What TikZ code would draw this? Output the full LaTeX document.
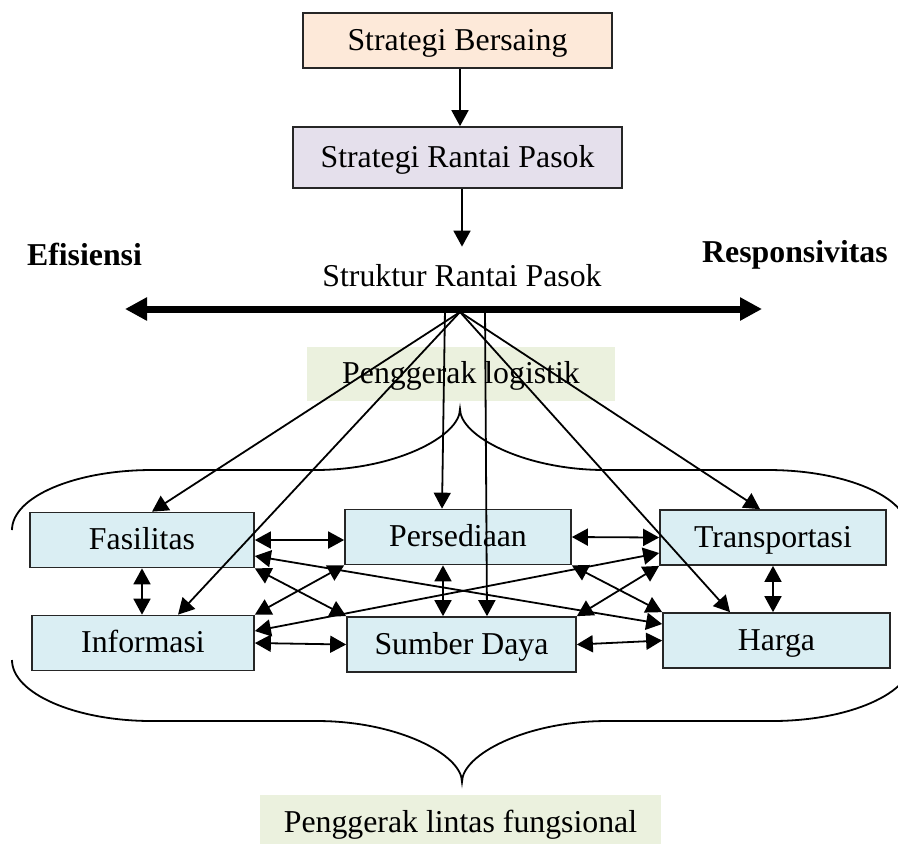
\documentclass[tikz,border=0pt]{standalone}
\usepackage{fontspec}
\setmainfont{Liberation Serif}
\usetikzlibrary{arrows.meta}
\definecolor{sbfill}{HTML}{FDE9D9}
\definecolor{srpfill}{HTML}{E5E0EC}
\definecolor{drvfill}{HTML}{DAEEF3}
\definecolor{bandfill}{HTML}{EBF1DE}
\definecolor{edgecol}{HTML}{262626}

\begin{document}
\begin{tikzpicture}[x=0.5pt,y=-0.5pt,
  every node/.style={font=\fontsize{15.9pt}{19pt}\selectfont, inner sep=0pt,
    text height=12pt, text depth=2.5pt},
  box/.style={draw=edgecol, line width=0.85pt, minimum height=27.5pt},
  driver/.style={box, fill=drvfill, minimum height=27.5pt},
  band/.style={fill=bandfill, minimum height=27pt},
  arr/.style={line width=0.9pt, -{Triangle[length=8pt,width=8.5pt]}},
  biarr/.style={line width=0.9pt,
    {Triangle[length=8pt,width=8.5pt]}-{Triangle[length=8pt,width=8.5pt]}},
  spectrum/.style={line width=3.5pt,
    {Triangle[length=11pt,width=11pt]}-{Triangle[length=11pt,width=11pt]}},
  brace/.style={line width=0.9pt}
]
\useasboundingbox (0,0) rectangle (898,843);
\clip (0,0) rectangle (898,843);

% strategy chain
\node[box, fill=sbfill, minimum width=154.5pt, minimum height=27.5pt] (sb) at (457.5,40.5) {Strategi Bersaing};
\node[box, fill=srpfill, minimum width=164.5pt, minimum height=30.5pt] (srp) at (457.5,157.5) {Strategi Rantai Pasok};
\node[anchor=base] (srs) at (462,286) {Struktur Rantai Pasok};
\node[anchor=base] (eff) at (84.5,265) {\bfseries Efisiensi};
\node[anchor=base] (resp) at (795,262) {\bfseries Responsivitas};

% labels on green bands
\node[band, minimum width=154pt] (logi) at (461,374) {Penggerak logistik};
\node[band, minimum width=200.5pt, minimum height=28pt] (lintas) at (460.5,822.5) {Penggerak lintas fungsional};

% the six drivers
\node[driver, minimum width=112pt]   (fas)   at (142,540)     {Fasilitas};
\node[driver, minimum width=111pt]   (inf)   at (143,643)     {Informasi};
\node[driver, minimum width=113pt]   (pers)  at (458,537)     {Persediaan};
\node[driver, minimum width=114.5pt] (sd)    at (461.5,644.5) {Sumber Daya};
\node[driver, minimum width=113pt]   (trans) at (773,537.5)   {Transportasi};
\node[driver, minimum width=113.5pt] (harga) at (776.5,640.5) {Harga};

% efficiency-responsiveness spectrum
\coordinate (effL) at (125,309);
\coordinate (respR) at (762,309);
\draw[spectrum] (effL) -- (respR);
\coordinate (hub) at (460,312);
\coordinate (tapA) at (445,309);
\coordinate (tapB) at (485,309);

% top arrows
\draw[arr] ([xshift=1.25pt]sb.south) -- ([xshift=1.25pt]srp.north);
\draw[arr] (srp.south -| srs.north) -- ([yshift=7.5pt]srs.north);

% fan-out from the structure to the drivers
\draw[arr] (hub) -- ([xshift=5pt]fas.north);
\draw[arr] (hub) -- ([xshift=17.5pt]inf.north);
\draw[arr] (hub) -- ([xshift=-6.5pt]trans.north);
\draw[arr] (hub) -- ([xshift=-23.25pt]harga.north);
\draw[arr] (tapA) -- ([xshift=-8pt]pers.north);
\draw[arr] (tapB) -- ([xshift=12.75pt]sd.north);

% links between drivers
\draw[biarr] (fas.east) -- (fas.east -| pers.west);
\draw[biarr] (pers.east) -- (trans.west);
\draw[biarr] (inf.east) -- (sd.west);
\draw[biarr] (sd.east) -- (harga.west);
\draw[biarr] (fas.south) -- (fas.south |- inf.north);
\draw[biarr] ([xshift=-7.5pt]pers.south) -- ([xshift=-7.5pt]pers.south |- sd.north);
\draw[biarr] (trans.south) -- (trans.south |- harga.north);
\draw[biarr] ([yshift=-8pt]fas.east) -- ([yshift=8.25pt]harga.west);
\draw[biarr] (fas.south east) -- (sd.north west);
\draw[biarr] (inf.north east) -- (pers.south west);
\draw[biarr] ([yshift=6pt]inf.east) -- ([yshift=-7.75pt]trans.west);
\draw[biarr] (pers.south east) -- (harga.north west);
\draw[biarr] (trans.south west) -- (sd.north east);

% upper brace
\draw[brace] (12,530) .. controls (12,496.9) and (74.7,470) .. (152,470)
  -- (315,470) .. controls (395.1,470) and (460,436.3) .. (460,409)
  .. controls (460,436.3) and (524.9,470) .. (605,470)
  -- (768,470) .. controls (845.3,470) and (908,496.9) .. (908,530);

% lower brace
\draw[brace] (12,660) .. controls (12,693.1) and (74.7,721) .. (152,721)
  -- (317,721) .. controls (397.1,721) and (462,754.3) .. (462,782)
  .. controls (462,754.3) and (526.9,721) .. (607,721)
  -- (772,721) .. controls (849.3,721) and (912,693.1) .. (912,660);
\end{tikzpicture}
\end{document}
